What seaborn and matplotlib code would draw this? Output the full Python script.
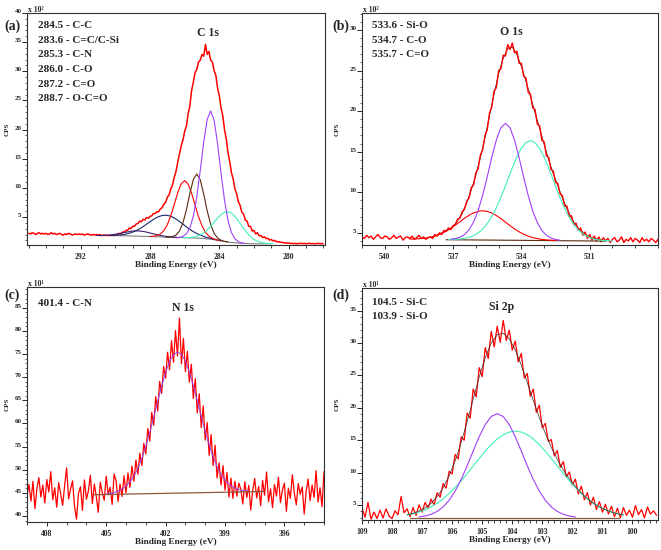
import numpy as np
import matplotlib
matplotlib.use("Agg")
import matplotlib.pyplot as plt
import seaborn as sns
from matplotlib.ticker import FixedLocator, MultipleLocator

# ------------------------------------------------------------------ data
# (a) C 1s  (counts x 10^2)
c1s_raw_range = (295.0, 278.0)
c1s_raw = [
    2.2, 2.1, 2.3, 2.2, 2.0, 2.2, 2.3, 2.1, 2.2, 2.1,
    2.2, 2.0, 2.1, 2.3, 2.1, 2.2, 2.0, 2.1, 2.2, 2.0,
    1.9, 2.1, 2.0, 2.2, 2.1, 1.9, 2.0, 2.1, 2.0, 2.1,
    2.0, 2.1, 1.9, 2.0, 2.1, 2.0, 1.9, 2.0, 1.9, 2.0,
    1.9, 2.0, 1.8, 1.9, 1.9, 1.8, 1.9, 1.8, 1.9, 1.8,
    1.9,
    2.0, 2.2, 2.1, 2.4, 2.4, 2.7, 2.7, 3.1, 3.0, 3.4,
    3.4, 3.8, 3.9, 4.3, 4.2, 4.6, 4.5, 4.9, 4.8, 5.1,
    5.2, 5.6, 5.6, 5.9, 5.9, 6.4, 6.6, 7.2, 7.5, 8.4,
    8.8, 9.8, 10.5, 11.8, 12.8, 14.4, 15.8, 17.2, 18.2, 19.7,
    20.6, 22.7, 24.1, 26.7, 28.1, 29.8, 30.3, 31.6, 31.9, 32.9,
    32.6, 34.6, 32.9, 33.4, 31.9, 31.6, 30.1, 29.3, 27.1, 25.8,
    23.7, 22.4, 20.0, 18.4, 16.1, 14.5, 12.6, 11.5, 9.8, 9.0,
    7.6, 7.0, 5.8, 5.5, 4.5, 4.3, 3.4, 3.4, 2.6, 2.7,
    2.1, 2.3, 1.8, 1.8, 1.5, 1.6, 1.3, 1.35, 1.05, 1.15,
    0.9, 1.0, 0.75, 0.8, 0.65, 0.7, 0.55, 0.6, 0.5, 0.55,
    0.45, 0.5, 0.42, 0.48, 0.4, 0.46, 0.5, 0.43, 0.47, 0.41,
    0.45, 0.49, 0.42, 0.46, 0.4, 0.44, 0.48, 0.43, 0.45, 0.41,
]
c1s_cc_range = (286.5, 282.5)        # 284.5 C-C
c1s_cc = [1.42, 1.49, 1.68, 2.12, 3.13, 5.13, 8.45, 12.98, 17.86, 21.75, 23.2,
          21.6, 17.56, 12.51, 7.87, 4.43, 2.35, 1.26, 0.76, 0.55, 0.47]
c1s_csi_range = (286.1, 280.9)       # 283.6 C=C/C-Si
c1s_csi = [1.46, 1.47, 1.50, 1.57, 1.71, 1.95, 2.27, 2.77, 3.41, 4.11, 4.82, 5.43,
           5.82, 5.9, 5.66, 5.11, 4.34, 3.49, 2.66, 1.95, 1.38, 0.98, 0.73, 0.57,
           0.48, 0.44, 0.42]
c1s_cn_range = (287.1, 283.5)        # 285.3 C-N
c1s_cn = [1.57, 1.57, 1.64, 1.91, 2.58, 3.99, 6.25, 9.04, 11.44, 12.38, 11.41,
          8.92, 6.07, 3.74, 2.21, 1.41, 1.02, 0.83, 0.71]
c1s_co_range = (288.0, 284.0)        # 286.0 C-O
c1s_co = [1.67, 1.70, 1.81, 2.09, 2.67, 3.69, 5.23, 7.18, 9.17, 10.69, 11.25,
          10.65, 9.09, 7.06, 5.07, 3.49, 2.38, 1.72, 1.35, 1.12, 0.97]
c1s_cdo_range = (290.3, 283.9)       # 287.2 C=O
c1s_cdo = [1.83, 1.85, 1.88, 1.92, 2.0, 2.13, 2.30, 2.53, 2.81, 3.16, 3.56, 3.98,
           4.40, 4.77, 5.07, 5.26, 5.31, 5.22, 4.99, 4.65, 4.24, 3.78, 3.32, 2.88,
           2.49, 2.17, 1.92, 1.67, 1.48, 1.34, 1.19, 1.05, 0.93]
c1s_oco_range = (291.1, 286.3)       # 288.7 O-C=O
c1s_oco = [1.83, 1.83, 1.85, 1.87, 1.93, 2.00, 2.09, 2.20, 2.32, 2.44, 2.55, 2.61,
           2.62, 2.57, 2.48, 2.34, 2.19, 2.04, 1.90, 1.78, 1.69, 1.61, 1.56, 1.52, 1.49]
c1s_bg_range = (290.0, 281.0)
c1s_bg = [1.8, 1.77, 1.75, 1.7, 1.65, 1.6, 1.55, 1.5, 1.45, 1.4, 1.35, 1.2, 0.95,
          0.7, 0.55, 0.45, 0.4, 0.4, 0.4]
c1s_labels = ["284.5 - C-C", "283.6 - C=C/C-Si", "285.3 - C-N",
              "286.0 - C-O", "287.2 - C=O", "288.7 - O-C=O"]

# (b) O 1s  (counts x 10^2)
o1s_raw_range = (541.0, 528.0)
o1s_raw = [
    4.5, 4.3, 4.7, 4.4, 4.6, 4.2, 4.5, 4.8, 4.4, 4.3,
    4.6, 4.5, 4.2, 4.4, 4.7, 4.3, 4.5, 4.6, 4.1, 4.4,
    4.5, 4.3, 4.6, 4.2, 4.4, 4.7, 4.3, 4.5, 4.2, 4.4,
    4.5, 4.3, 4.8, 4.6, 5.0, 4.8, 5.3, 5.2, 5.6, 5.4,
    5.9, 6.0, 6.7, 6.8, 7.6, 7.9, 8.9, 9.3, 10.6, 10.9,
    12.4, 12.9, 14.6, 15.2, 17.0, 17.7, 19.8, 20.5, 22.5, 22.9,
    25.0, 25.2, 26.9, 26.8, 28.2, 27.6, 28.4, 27.2, 27.4, 25.9,
    25.9, 24.3, 24.1, 22.3, 22.1, 20.4, 20.2, 18.4, 18.2, 16.4,
    16.2, 14.5, 14.3, 12.8, 12.6, 11.2, 11.1, 9.8, 9.6, 8.3,
    8.3, 7.0, 7.1, 6.0, 6.2, 5.3, 5.6, 4.7, 5.1, 4.3,
    4.8, 4.1, 4.6, 4.0, 4.5, 3.9, 4.4,
    4.0, 4.3, 3.8, 4.2, 4.4, 3.9, 4.1, 4.5, 3.8, 4.2,
    4.0, 4.4, 3.9, 4.3, 4.1, 3.8, 4.4, 4.0, 4.2, 3.9,
    4.3, 4.1, 3.8, 4.2,
]
o1s_fit_range = (538.0, 530.4)
o1s_fit = [4.4, 4.6, 4.85, 5.15, 5.45, 5.75, 6.5, 7.4, 8.7, 10.3, 12.1, 14.3, 16.7,
           19.4, 22.1, 24.6, 26.5, 27.7, 27.9, 27.0, 25.5, 23.7, 21.8, 19.8, 17.9,
           15.9, 14.0, 12.3, 10.8, 9.3, 8.0, 6.8, 5.9, 5.3, 4.8, 4.5, 4.3, 4.2, 4.1]
o1s_sio_range = (537.2, 530.0)       # 533.6 Si-O
o1s_sio = [4.18, 4.19, 4.22, 4.27, 4.38, 4.54, 4.81, 5.20, 5.77, 6.53, 7.51, 8.70,
           10.07, 11.54, 13.01, 14.35, 15.43, 16.13, 16.37, 16.12, 15.41, 14.32,
           12.97, 11.49, 10.01, 8.63, 7.43, 6.44, 5.67, 5.09, 4.69, 4.41, 4.23,
           4.12, 4.06, 4.02, 4.00]
o1s_co_range = (537.1, 532.3)        # 534.7 C-O
o1s_co = [4.21, 4.29, 4.45, 4.78, 5.37, 6.33, 7.74, 9.64, 11.90, 14.31, 16.45, 17.96,
          18.49, 17.95, 16.43, 14.28, 11.86, 9.59, 7.68, 6.26, 5.29, 4.69, 4.35,
          4.18, 4.09]
o1s_cdo_range = (538.9, 532.5)       # 535.7 C=O
o1s_cdo = [4.23, 4.24, 4.27, 4.32, 4.41, 4.52, 4.69, 4.92, 5.21, 5.55, 5.95, 6.36,
           6.79, 7.16, 7.46, 7.65, 7.72, 7.64, 7.44, 7.13, 6.75, 6.31, 5.89, 5.48,
           5.13, 4.83, 4.59, 4.41, 4.29, 4.19, 4.13, 4.09, 4.07]
o1s_bg_range = (537.3, 530.3)
o1s_bg = [4.15, 4.07, 3.98]
o1s_labels = ["533.6 - Si-O", "534.7 - C-O", "535.7 - C=O"]

# (c) N 1s  (counts x 10^1)
n1s_raw_range = (409.0, 394.0)
n1s_raw = [
    44.5, 46.8, 43.2, 47.5, 41.6, 45.9, 48.3, 44.1, 46.7, 42.8,
    47.9, 45.2, 49.6, 43.5, 46.1, 41.9, 47.2, 44.8, 42.3, 46.5,
    50.4, 43.7, 45.8, 47.6, 42.1, 39.3, 44.9, 46.3, 41.2, 47.8,
    43.6, 45.4, 48.8, 42.7, 46.9, 44.2, 40.8, 47.3, 45.1, 43.4,
    48.6, 44.6, 46.2, 42.5, 49.1,
    47.6, 43.1, 46.9, 44.2, 48.7, 45.0, 49.3, 46.2, 50.8, 47.5,
    52.1, 49.0, 53.6, 50.9, 55.7, 53.4, 58.9, 56.2, 62.4, 59.6,
    65.8, 62.7, 69.1, 66.5, 72.3, 69.8, 75.4, 71.6, 77.9, 73.2,
    80.1, 74.6, 82.8, 72.9, 78.4, 71.2, 75.6, 68.9, 72.8, 65.4,
    69.7, 62.3, 66.4, 59.1, 63.8, 56.4, 60.2, 53.1, 57.6, 50.9,
    55.3, 48.2, 51.5, 46.7, 50.9, 45.6, 49.4, 44.1, 48.2, 43.8,
    47.5, 44.3, 47.1,
    45.8, 42.6, 47.4, 44.0, 46.6, 41.3, 45.5, 48.1, 43.9, 46.4,
    42.2, 47.7, 44.5, 49.5, 43.1, 45.9, 41.8, 46.8, 44.3, 48.4,
    42.9, 45.6, 47.1, 41.0, 46.0, 43.8, 48.9, 45.0, 42.4, 47.0,
    44.7, 46.3, 40.4, 45.4, 48.0, 43.3, 46.7, 44.0, 49.8, 43.0,
    46.1, 42.0, 49.6,
]
n1s_cn_range = (405.0, 397.8)        # 401.4 C-N
n1s_cn = [44.77, 44.89, 45.07, 45.36, 45.79, 46.44, 47.37, 48.63, 50.32, 52.46,
          55.05, 58.06, 61.35, 64.77, 68.10, 71.05, 73.40, 74.91, 75.44, 74.94,
          73.46, 71.15, 68.23, 64.93, 61.55, 58.29, 55.31, 52.75, 50.64, 48.99,
          47.76, 46.86, 46.25, 45.85, 45.59, 45.44, 45.35]
n1s_bg_range = (405.6, 397.0)
n1s_bg = [44.6, 44.95, 45.3]
n1s_labels = ["401.4 - C-N"]

# (d) Si 2p  (counts x 10^1)
si2p_raw_range = (109.0, 99.2)
si2p_raw = [
    4.6, 3.1, 5.4, 2.8, 3.9, 2.9, 4.2, 3.0, 4.4, 3.3,
    2.9, 4.1, 3.5, 6.3, 3.8, 4.4, 3.2, 4.6, 3.4, 5.0,
    3.9, 5.4, 4.5, 5.9, 5.0, 6.9, 6.2, 8.3, 7.6, 10.2,
    9.8, 12.8, 12.1, 15.5, 15.0, 19.2, 18.4, 22.9, 21.7, 26.2,
    24.8, 29.3, 27.6, 31.8, 29.4, 32.6, 30.1, 33.5, 30.4, 32.0,
    28.9, 30.3, 27.1, 28.4, 24.6, 25.3, 21.8, 22.9, 19.3, 20.4,
    16.9, 17.6, 14.8, 15.1, 12.6, 13.4, 10.8, 11.7, 9.3, 10.1,
    8.1, 9.0, 6.7, 7.9, 5.8, 6.9, 5.0, 6.2, 4.3, 5.5,
    3.9, 5.1, 3.6, 4.8, 3.2, 4.5, 3.0, 4.6, 3.4, 4.2,
    3.1, 4.9, 3.5, 4.3, 3.0, 4.7, 3.6, 4.1, 3.4,
]
si2p_fit_range = (107.5, 100.3)
si2p_fit = [3.48, 3.71, 4.06, 4.56, 5.27, 6.28, 7.65, 9.49, 11.83, 14.65, 17.89,
            21.34, 24.73, 27.72, 29.99, 31.29, 31.51, 30.67, 28.95, 26.59, 23.90,
            21.12, 18.47, 16.04, 13.88, 12.02, 10.40, 9.02, 7.84, 6.83, 5.98, 5.27,
            4.71, 4.26, 3.91, 3.64, 3.45]
si2p_sic_range = (107.1, 101.9)      # 104.5 Si-C
si2p_sic = [3.15, 3.30, 3.56, 4.01, 4.70, 5.73, 7.14, 8.93, 11.05, 13.33, 15.55,
            17.41, 18.66, 19.1, 18.66, 17.41, 15.55, 13.33, 11.05, 8.93, 7.14, 5.73,
            4.70, 4.01, 3.56, 3.30, 3.15]
si2p_sio_range = (107.5, 100.3)      # 103.9 Si-O
si2p_sio = [3.45, 3.64, 3.91, 4.26, 4.71, 5.27, 5.95, 6.76, 7.69, 8.72, 9.84, 11.01,
            12.18, 13.31, 14.33, 15.19, 15.85, 16.26, 16.4, 16.26, 15.85, 15.19,
            14.33, 13.31, 12.18, 11.01, 9.84, 8.72, 7.69, 6.76, 5.95, 5.27, 4.71,
            4.26, 3.91, 3.64, 3.45]
si2p_bg_range = (107.4, 100.45)
si2p_bg = [3.0, 3.0]
si2p_labels = ["104.5 - Si-C", "103.9 - Si-O"]

# ------------------------------------------------------------------ style
sns.set_style("ticks")
plt.rcParams["font.family"] = ["Liberation Serif", "DejaVu Serif"]
plt.rcParams["font.weight"] = "bold"
plt.rcParams["axes.linewidth"] = 0.8

RED = "#FF0000"
PURPLE = "#A040F8"
CYAN = "#40F0B8"
BROWN = "#5A2A0C"
NAVY = "#1C2A6C"
DNAVY = "#3A2070"
BGCOL = "#6E6E6E"

W, H = 661, 550
fig = plt.figure(figsize=(W / 100, H / 100), dpi=100)


def px_axes(l, t, r, b):
    return fig.add_axes([l / W, 1 - b / H, (r - l) / W, (b - t) / H])


def ftext(x, y, s, **kw):
    fig.text(x / W, 1 - y / H, s, **kw)


def draw(ax, rng, vals, color, lw=0.8, z=2):
    x = np.linspace(rng[0], rng[1], len(vals))
    sns.lineplot(x=x, y=vals, ax=ax, color=color, linewidth=lw, sort=False,
                 estimator=None, legend=False, zorder=z)


def style(ax, xlim, ylim, xmaj, xmin, ymaj, ymin, ylab_x):
    ax.set_xlim(*xlim)
    ax.set_ylim(*ylim)
    ax.xaxis.set_major_locator(FixedLocator(xmaj))
    ax.xaxis.set_minor_locator(MultipleLocator(xmin))
    ax.yaxis.set_major_locator(FixedLocator(ymaj))
    ax.yaxis.set_minor_locator(MultipleLocator(ymin))
    ax.set_xticklabels([str(v) for v in xmaj])
    ax.set_yticklabels([str(v) for v in ymaj])
    ax.tick_params(axis="x", which="major", direction="out", length=3.2, width=0.7,
                   labelsize=5.5, pad=2.5)
    ax.tick_params(axis="x", which="minor", direction="out", length=2.0, width=0.6)
    ax.tick_params(axis="y", which="major", direction="out", length=3.5, width=0.7,
                   labelsize=5, pad=0.3)
    ax.tick_params(axis="y", which="minor", direction="out", length=1.6, width=0.5)
    for lab in ax.get_yticklabels():
        lab.set_va("baseline")
    ax.set_xlabel("Binding Energy (eV)", fontsize=6.7, fontweight="bold")
    ax.xaxis.set_label_coords(0.5, -0.07)
    ax.set_ylabel("CPS", fontsize=5, fontweight="bold")
    ax.yaxis.set_label_coords(ylab_x, 0.5)
    for sp in ax.spines.values():
        sp.set_color("#303030")
        sp.set_linewidth(0.8)


# ---------------------------------------------------------------- (a) C 1s
axa = px_axes(27, 13, 325, 245)
draw(axa, c1s_raw_range, c1s_raw, RED, 1.1, 2)
draw(axa, c1s_bg_range, c1s_bg, BGCOL, 0.7, 3)
draw(axa, c1s_oco_range, c1s_oco, DNAVY, 0.8, 3)
draw(axa, c1s_cdo_range, c1s_cdo, NAVY, 0.8, 3)
draw(axa, c1s_co_range, c1s_co, RED, 0.8, 3)
draw(axa, c1s_cn_range, c1s_cn, BROWN, 0.8, 3)
draw(axa, c1s_csi_range, c1s_csi, CYAN, 0.8, 3)
draw(axa, c1s_cc_range, c1s_cc, PURPLE, 0.8, 3)
style(axa, (295.1, 277.9), (0.2, 40), [280, 284, 288, 292], 1,
      [5, 10, 15, 20, 25, 30, 35, 40], 1, -0.057)

# ---------------------------------------------------------------- (b) O 1s
axb = px_axes(362, 13, 658, 245)
draw(axb, o1s_fit_range, o1s_fit, "#302020", 0.6, 1)
draw(axb, o1s_raw_range, o1s_raw, RED, 1.0, 2)
draw(axb, o1s_bg_range, o1s_bg, BROWN, 0.8, 3)
draw(axb, o1s_cdo_range, o1s_cdo, RED, 0.8, 3)
draw(axb, o1s_sio_range, o1s_sio, CYAN, 0.8, 3)
draw(axb, o1s_co_range, o1s_co, PURPLE, 0.8, 3)
style(axb, (541.0, 528.0), (3.5, 32.1), [531, 534, 537, 540], 1,
      [5, 10, 15, 20, 25, 30], 1, -0.074)

# ---------------------------------------------------------------- (c) N 1s
axc = px_axes(27, 287, 324, 522)
draw(axc, n1s_raw_range, n1s_raw, RED, 0.9, 2)
draw(axc, n1s_cn_range, n1s_cn, "#7A40FF", 0.6, 3)
draw(axc, n1s_bg_range, n1s_bg, "#8B5A3C", 0.9, 3)
style(axc, (409.0, 394.0), (38.7, 89.5), [396, 399, 402, 405, 408], 1,
      [40, 45, 50, 55, 60, 65, 70, 75, 80, 85], 1, -0.057)

# ---------------------------------------------------------------- (d) Si 2p
axd = px_axes(362, 288, 658, 520)
draw(axd, si2p_raw_range, si2p_raw, RED, 0.9, 2)
draw(axd, si2p_bg_range, si2p_bg, "#8B5A3C", 0.9, 3)
draw(axd, si2p_sio_range, si2p_sio, CYAN, 0.8, 3)
draw(axd, si2p_sic_range, si2p_sic, PURPLE, 0.8, 3)
draw(axd, si2p_fit_range, si2p_fit, "#303030", 0.5, 4)
style(axd, (109.0, 99.15), (2.68, 38.5), list(range(100, 110)), 0.2,
      [5, 10, 15, 20, 25, 30, 35], 1, -0.074)

# ---------------------------------------------------------------- texts
lab_kw = dict(fontsize=10, fontweight="bold", va="center", ha="left")
ftext(4, 26, "(a)", **lab_kw)
ftext(332, 26.5, "(b)", **lab_kw)
ftext(4, 295, "(c)", **lab_kw)
ftext(332, 295.5, "(d)", **lab_kw)

mul_kw = dict(fontsize=5.5, fontweight="bold", va="baseline", ha="left")
ftext(28, 12, "x 10²", **mul_kw)
ftext(363, 12, "x 10²", **mul_kw)
ftext(28, 286, "x 10¹", **mul_kw)
ftext(363, 287, "x 10¹", **mul_kw)

leg_kw = dict(fontsize=8, fontweight="bold", va="center", ha="left")
for i, s in enumerate(c1s_labels):
    ftext(38, 25.7 + 14.6 * i, s, **leg_kw)
for i, s in enumerate(o1s_labels):
    ftext(372.5, 25.3 + 14.8 * i, s, **leg_kw)
for i, s in enumerate(n1s_labels):
    ftext(38, 303.3 + 14.5 * i, s, **leg_kw)
for i, s in enumerate(si2p_labels):
    ftext(371.5, 302.7 + 14.0 * i, s, **leg_kw)

pk_kw = dict(fontsize=8.5, fontweight="bold", va="center", ha="center")
ftext(207.5, 33.3, "C 1s", **pk_kw)
ftext(511.7, 32.3, "O 1s", **pk_kw)
ftext(183.3, 308.3, "N 1s", **pk_kw)
ftext(501.7, 307.3, "Si 2p", **pk_kw)

fig.savefig("out.png", dpi=100, facecolor="white")
